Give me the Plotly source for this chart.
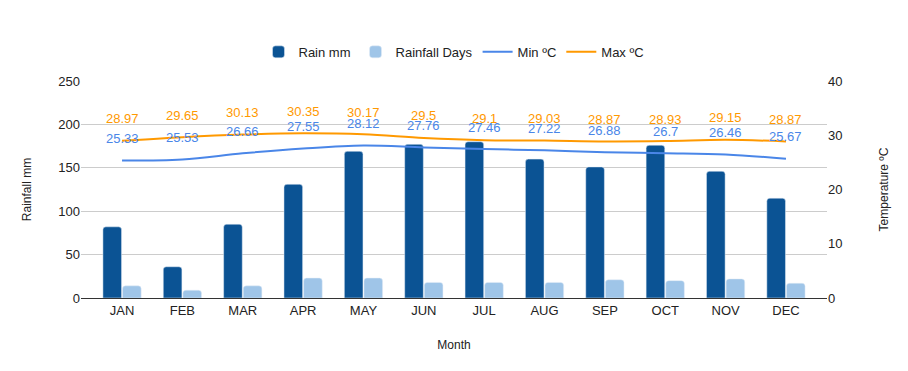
import plotly.graph_objects as go

months = ["JAN", "FEB", "MAR", "APR", "MAY", "JUN", "JUL", "AUG", "SEP", "OCT", "NOV", "DEC"]
rain_mm = [82, 36, 85, 131, 169, 177, 180, 160, 151, 176, 146, 115]
rain_days = [14, 9, 14, 23, 23, 18, 18, 18, 21, 20, 22, 17]
min_c = [25.33, 25.53, 26.66, 27.55, 28.12, 27.76, 27.46, 27.22, 26.88, 26.7, 26.46, 25.67]
max_c = [28.97, 29.65, 30.13, 30.35, 30.17, 29.5, 29.1, 29.03, 28.87, 28.93, 29.15, 28.87]

FONT = "Arial, Liberation Sans, sans-serif"
C_RAIN = "#0b5394"
C_DAYS = "#9fc5e8"
C_MIN = "#4a86e8"
C_MAX = "#ff9900"

fig = go.Figure()
fig.add_trace(go.Bar(x=months, y=rain_mm, name="Rain mm", marker_color=C_RAIN,
                     yaxis="y"))
fig.add_trace(go.Bar(x=months, y=rain_days, name="Rainfall Days", marker_color=C_DAYS,
                     yaxis="y"))
fig.add_trace(go.Scatter(x=months, y=min_c, name="Min ºC", mode="lines",
                         line=dict(color=C_MIN, width=2, shape="spline", smoothing=1),
                         yaxis="y2"))
fig.add_trace(go.Scatter(x=months, y=max_c, name="Max ºC", mode="lines",
                         line=dict(color=C_MAX, width=2, shape="spline", smoothing=1),
                         yaxis="y2"))

annotations = []
for series, color in ((min_c, C_MIN), (max_c, C_MAX)):
    for m, v in zip(months, series):
        annotations.append(dict(x=m, y=v, xref="x", yref="y2", text=str(v),
                                showarrow=False, yshift=22, yanchor="middle",
                                font=dict(family=FONT, size=13, color=color)))

fig.update_layout(
    width=908, height=371,
    margin=dict(l=73, r=89, t=73, b=81, autoexpand=False),
    paper_bgcolor="white", plot_bgcolor="white",
    font=dict(family=FONT, size=13, color="#222222"),
    barmode="group", bargap=0.35, bargroupgap=0.05, barcornerradius=3,
    showlegend=True,
    legend=dict(orientation="h", x=0.5, xanchor="center", y=1.134, yanchor="middle",
                font=dict(family=FONT, size=13, color="#222222"), itemclick=False),
    xaxis=dict(type="category", range=[-0.68, 11.68], showgrid=False, automargin=False,
               showline=True, linecolor="#333333", linewidth=1,
               ticks="", tickfont=dict(size=13),
               title=dict(text="Month", font=dict(size=12), standoff=24)),
    yaxis=dict(range=[0, 250], tickvals=[0, 50, 100, 150, 200, 250], automargin=False,
               showgrid=True, gridcolor="#cccccc", zeroline=False,
               ticks="", tickfont=dict(size=13),
               title=dict(text="Rainfall mm", font=dict(size=12), standoff=24)),
    yaxis2=dict(range=[0, 40], tickvals=[0, 10, 20, 30, 40], overlaying="y", side="right",
                showgrid=False, zeroline=False, ticks="", tickfont=dict(size=13),
                automargin=False,
                title=dict(text="Temperature ºC", font=dict(size=12), standoff=38)),
    annotations=annotations,
)

fig.write_html("out.html")
